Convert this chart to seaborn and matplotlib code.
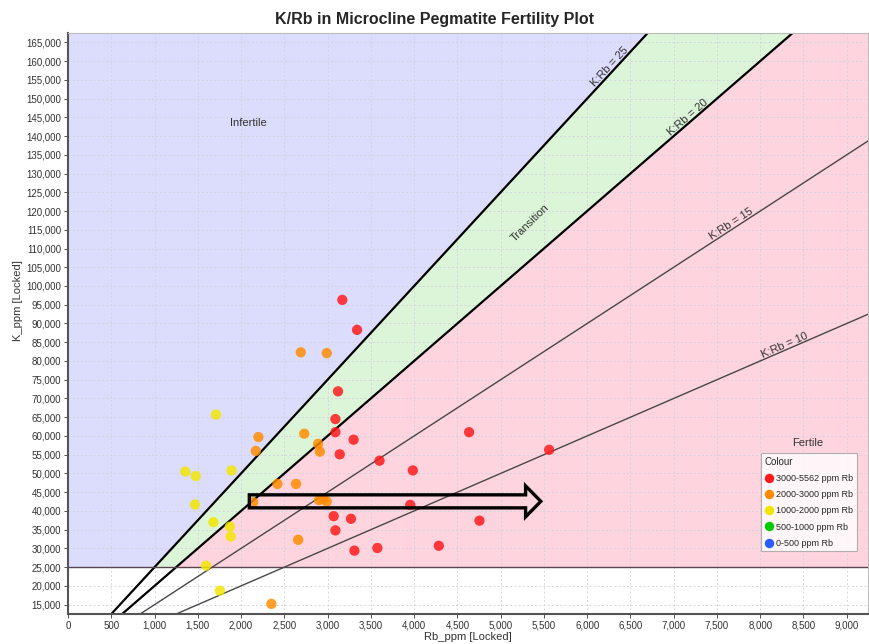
import numpy as np
import pandas as pd
import matplotlib
matplotlib.use("Agg")
import matplotlib.pyplot as plt
import seaborn as sns
from matplotlib.lines import Line2D
from matplotlib.patches import FancyArrow
from matplotlib.ticker import FuncFormatter, MultipleLocator

# sample data
rb_ppm = [3170, 3340, 2690, 2990, 3120, 3090, 1710, 2200, 2730, 3090,
          3300, 2170, 2890, 2910, 3140, 3600, 1355, 1475, 1890, 2420,
          2635, 1467, 2140, 2900, 2990, 2950, 1680, 1870, 1880, 3070,
          3270, 3090, 2660, 3310, 3575, 1595, 1755, 2350, 4635, 5560,
          3985, 3955, 4755, 4285]
k_ppm = [96300, 88300, 82300, 82100, 71900, 64500, 65700, 59700, 60600, 61000,
         59000, 56000, 57900, 55800, 55100, 53400, 50500, 49300, 50800, 47200,
         47200, 41700, 42300, 42900, 42500, 43300, 37000, 35800, 33150, 38600,
         37900, 34800, 32300, 29400, 30100, 25400, 18700, 15200, 61000, 56300,
         50800, 41600, 37400, 30700]

ratios = [25, 20, 15, 10]
k_cutoff = 25000
legend_labels = ["3000-5562 ppm Rb", "2000-3000 ppm Rb", "1000-2000 ppm Rb",
                 "500-1000 ppm Rb", "0-500 ppm Rb"]
legend_colors = ["#ff1a1a", "#ff8c00", "#f2e600", "#00cc00", "#2a5cff"]
bins = [0, 500, 1000, 2000, 3000, 5562]

df = pd.DataFrame({"Rb": rb_ppm, "K": k_ppm})
df["group"] = pd.cut(df["Rb"], bins=bins, labels=legend_labels[::-1])

XMAX, YMIN, YMAX = 9250, 12500, 167500

sns.set_theme(style="ticks")
plt.rcParams["font.family"] = ["Liberation Sans", "DejaVu Sans"]

fig = plt.figure(figsize=(8.69, 6.44), dpi=100)
ax = fig.add_axes([0.0783, 0.0466, 0.921, 0.9022])
ax.set_xlim(0, XMAX)
ax.set_ylim(YMIN, YMAX)

# background fields
xs = np.linspace(0, XMAX, 500)
line25 = np.clip(np.maximum(25 * xs, k_cutoff), None, YMAX)
line20 = np.clip(np.maximum(20 * xs, k_cutoff), None, YMAX)
ax.fill_between(xs, line25, YMAX, color="#dcdcfd", lw=0, zorder=0)
ax.fill_between(xs, line20, line25, color="#dcf5d9", lw=0, zorder=0)
ax.fill_between(xs, k_cutoff, line20, color="#fed5de", lw=0, zorder=0)

ax.grid(True, color="#d2d2de", linestyle=(0, (2.5, 2.5)), lw=0.6)
ax.set_axisbelow(True)

# K/Rb lines
for r in ratios:
    bold = r >= 20
    ax.plot(xs, r * xs, color="black" if bold else "#474747",
            lw=1.6 if bold else 1.0, zorder=2)
ax.axhline(k_cutoff, color="#5a4650", lw=1.0, zorder=2)

label_x = {25: 6300, 20: 7200, 15: 7700, 10: 8300}
for r in ratios:
    x0 = label_x[r]
    ax.text(x0, r * x0, f"K:Rb = {r}", rotation=np.degrees(np.arctan(r)),
            transform_rotates_text=True, rotation_mode="anchor",
            ha="center", va="bottom", fontsize=8, color="#333333", zorder=3)

ax.text(2080, 143400, "Infertile", ha="center", va="center", fontsize=8, color="#333333")
ax.text(5337, 116960, "Transition", ha="center", va="center", fontsize=8, color="#333333",
        rotation=np.degrees(np.arctan(22.5)), transform_rotates_text=True,
        rotation_mode="anchor")
ax.text(8549, 58240, "Fertile", ha="center", va="center", fontsize=8, color="#333333")

palette = dict(zip(legend_labels, legend_colors))
sns.scatterplot(data=df, x="Rb", y="K", hue="group", palette=palette, s=55,
                edgecolor="none", alpha=0.84, legend=False, ax=ax, zorder=4)

# hollow arrow annotation
arrow_x, arrow_y, arrow_len = 2095, 42550, 3369
ax.add_patch(FancyArrow(arrow_x, arrow_y, arrow_len, 0, width=3470, head_width=8270,
                        head_length=176, length_includes_head=True,
                        facecolor="none", edgecolor="black", lw=2.4, zorder=5))

handles = [Line2D([], [], marker="o", ls="", markersize=6.8, markerfacecolor=c,
                  markeredgecolor="none") for c in legend_colors]
leg = ax.legend(handles, legend_labels, title="Colour", loc="upper left",
                bbox_to_anchor=(0.866, 0.277), fontsize=6.5, title_fontsize=7,
                frameon=True, fancybox=False, handletextpad=0.3, borderpad=0.4,
                labelspacing=0.8, handlelength=1.0, borderaxespad=0)
leg.get_frame().set_edgecolor("#a0a0a0")
leg.get_frame().set_linewidth(0.8)
leg._legend_box.align = "left"

ax.xaxis.set_major_locator(MultipleLocator(500))
ax.set_yticks(np.arange(15000, 165001, 5000))
fmt = FuncFormatter(lambda v, p: f"{int(v):,}")
ax.xaxis.set_major_formatter(fmt)
ax.yaxis.set_major_formatter(fmt)
ax.tick_params(labelsize=7, colors="#333333", length=3, width=0.6, pad=2)

for side in ["left", "bottom"]:
    ax.spines[side].set_color("#555555")
    ax.spines[side].set_linewidth(1.5)
for side in ["top", "right"]:
    ax.spines[side].set_color("#bbbbbb")
    ax.spines[side].set_linewidth(0.8)

ax.set_xlabel("Rb_ppm [Locked]", fontsize=8, color="#333333", labelpad=1)
ax.set_ylabel("K_ppm [Locked]", fontsize=8, color="#333333")
ax.yaxis.set_label_coords(-0.056, 0.54)
fig.suptitle("K/Rb in Microcline Pegmatite Fertility Plot", fontsize=11.5,
             fontweight="bold", y=0.982)

fig.savefig("out.png", dpi=100)
